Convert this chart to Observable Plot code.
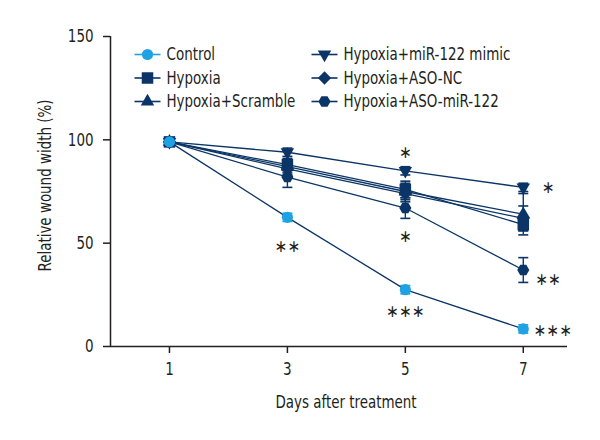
<!DOCTYPE html>
<html><head><meta charset="utf-8">
<script src="https://cdn.jsdelivr.net/npm/d3@7"></script>
<script src="https://cdn.jsdelivr.net/npm/@observablehq/plot@0.6"></script>
<style>body{margin:0;background:#fff} svg text{font-stretch:condensed}</style>
</head><body><div id="chart"></div>
<script>
// ---- data ----
const days = [1, 3, 5, 7];
const seriesNames = ["Control", "Hypoxia", "Hypoxia+Scramble", "Hypoxia+miR-122 mimic", "Hypoxia+ASO-NC", "Hypoxia+ASO-miR-122"];
const control     = [99, 62.5, 27.5, 8.5];
const controlErr  = [1, 2, 2, 2];
const hypoxia     = [99, 88, 76, 59];
const hypoxiaErr  = [1, 3, 4, 3];
const scramble    = [99, 87, 75, 64];
const scrambleErr = [1, 3, 4, 10];
const mimic       = [99, 94, 85, 77];
const mimicErr    = [1, 2, 2, 2];
const asoNC       = [99, 86, 74, 62];
const asoNCErr    = [1, 3, 4, 6];
const asoMiR      = [99, 82, 67, 37];
const asoMiRErr   = [1, 5, 5, 6];
const xTicks = [1, 3, 5, 7];
const yTicks = [0, 50, 100, 150];
const xTitle = "Days after treatment";
const yTitle = "Relative wound width (%)";
const starLabels = ["**", "*", "*", "***", "*", "**", "***"];
const starDays   = [3, 5, 5, 5, 7.42, 7.42, 7.5];
const starValues = [48.5, 94, 53, 17, 77, 32.5, 7.5];

// ---- styles ----
const NAVY = "#0b3566", LIGHT = "#1ea2e3", INK = "#231f20";
const FONT = "'DejaVu Sans',sans-serif";
const FS = 18;
const sqrt3 = Math.sqrt(3);
const triDown = {draw(c, s) { const y = -Math.sqrt(s / (sqrt3 * 3)); c.moveTo(0, -y * 2); c.lineTo(-sqrt3 * y, y); c.lineTo(sqrt3 * y, y); c.closePath(); }};
const hexFlat = {draw(c, s) { const R = Math.sqrt(s * 2 / (3 * sqrt3)); for (let i = 0; i < 6; i++) { const a = i * Math.PI / 3; const px = R * Math.cos(a), py = R * Math.sin(a); if (i === 0) c.moveTo(px, py); else c.lineTo(px, py); } c.closePath(); }};
const hline = hw => ({draw(c) { c.moveTo(-hw, 0); c.lineTo(hw, 0); }});

const seriesValues = [control, hypoxia, scramble, mimic, asoNC, asoMiR];
const seriesErrs = [controlErr, hypoxiaErr, scrambleErr, mimicErr, asoNCErr, asoMiRErr];
const styles = [
  {fill: LIGHT, symbol: "circle", r: 5.6, legendLine: LIGHT},
  {fill: NAVY, symbol: "square", r: 6.5, legendLine: NAVY},
  {fill: NAVY, symbol: "triangle", r: 5, legendLine: NAVY},
  {fill: NAVY, symbol: triDown, r: 5, legendLine: NAVY},
  {fill: NAVY, symbol: "diamond2", r: 6, legendLine: NAVY},
  {fill: NAVY, symbol: hexFlat, r: 5.5, legendLine: NAVY}
];

const series = seriesNames.map((name, i) => ({
  name, style: styles[i],
  rows: days.map((d, j) => ({day: d, value: seriesValues[i][j], lo: seriesValues[i][j] - seriesErrs[i][j], hi: seriesValues[i][j] + seriesErrs[i][j]}))
}));
const stars = starLabels.map((t, i) => ({label: t, day: starDays[i], value: starValues[i]}));

const marks = [];
series.forEach(s => marks.push(Plot.line(s.rows, {x: "day", y: "value", stroke: NAVY, strokeWidth: 1.3})));
series.forEach(s => {
  const col = s.style.fill;
  marks.push(Plot.ruleX(s.rows, {x: "day", y1: "lo", y2: "hi", stroke: col, strokeWidth: 1.4}));
  marks.push(Plot.dot(s.rows, {x: "day", y: "lo", symbol: hline(5), r: 5, fill: "none", stroke: col, strokeWidth: 1.6}));
  marks.push(Plot.dot(s.rows, {x: "day", y: "hi", symbol: hline(5), r: 5, fill: "none", stroke: col, strokeWidth: 1.6}));
});
[1, 2, 4, 3, 5, 0].forEach(i => {
  const s = series[i];
  marks.push(Plot.dot(s.rows, {x: "day", y: "value", symbol: s.style.symbol, r: s.style.r, fill: s.style.fill, stroke: "none"}));
});
marks.push(Plot.text(stars, {x: "day", y: "value", text: d => d.label.replace(/\*/g, "\u2217"), fontSize: 17, fill: INK, fontFamily: "DejaVu Sans", lineAnchor: "middle", className: "stars"}));

series.forEach((s, i) => {
  const col = Math.floor(i / 3), row = i % 3;
  const mx = 37 + col * 177, my = 18 + row * 23.5;
  marks.push(Plot.dot([s.name], {frameAnchor: "top-left", dx: mx, dy: my, symbol: hline(13), r: 5, fill: "none", stroke: s.style.legendLine, strokeWidth: 1.6}));
  marks.push(Plot.dot([s.name], {frameAnchor: "top-left", dx: mx, dy: my, symbol: s.style.symbol, r: s.style.r, fill: s.style.fill, stroke: "none"}));
  marks.push(Plot.text([s.name], {frameAnchor: "top-left", dx: mx + 19, dy: my, text: d => d, textAnchor: "start", lineAnchor: "middle", fontSize: FS, fill: INK}));
});

marks.push(Plot.ruleX([0], {x: d => d, y1: 0, y2: 150, stroke: INK, strokeWidth: 1.5}));
marks.push(Plot.ruleY([0], {y: d => d, x1: 0, x2: 7.75, stroke: INK, strokeWidth: 1.5}));
marks.push(Plot.axisX(xTicks, {tickSize: 7, tickPadding: 9, tickFormat: d => d, label: null, fontSize: FS, stroke: INK, fill: INK, strokeWidth: 1.5}));
marks.push(Plot.axisY(yTicks, {tickSize: 7, tickPadding: 10, tickFormat: d => d, label: null, fontSize: FS, stroke: INK, fill: INK, strokeWidth: 1.5}));
marks.push(Plot.text([yTitle], {frameAnchor: "left", dx: -65, dy: -6, rotate: -90, text: d => d, textAnchor: "middle", fontSize: FS, fill: INK, lineAnchor: "middle"}));
marks.push(Plot.text([xTitle], {frameAnchor: "bottom", dx: 7, dy: 56, text: d => d, textAnchor: "middle", fontSize: FS, fill: INK, lineAnchor: "middle"}));

const chart = Plot.plot({
  width: 600, height: 440,
  marginLeft: 110, marginRight: 33, marginTop: 36, marginBottom: 94,
  x: {domain: [0, 7.75]},
  y: {domain: [0, 150]},
  style: {fontFamily: FONT, fontSize: FS + "px", background: "#fff", color: INK, overflow: "visible"},
  marks
});
document.getElementById("chart").appendChild(chart);

// emulate the narrow (condensed) typeface of the original by compressing glyphs
const SQUEEZE = 0.83;
chart.querySelectorAll("text").forEach(t => {
  if (t.closest(".stars")) return;
  const parts = t.querySelectorAll("tspan");
  (parts.length ? Array.from(parts) : [t]).forEach(el => {
    const len = el.getComputedTextLength();
    if (len > 0) {
      el.setAttribute("textLength", (len * SQUEEZE).toFixed(1));
      el.setAttribute("lengthAdjust", "spacingAndGlyphs");
    }
  });
});
</script>
</body></html>
